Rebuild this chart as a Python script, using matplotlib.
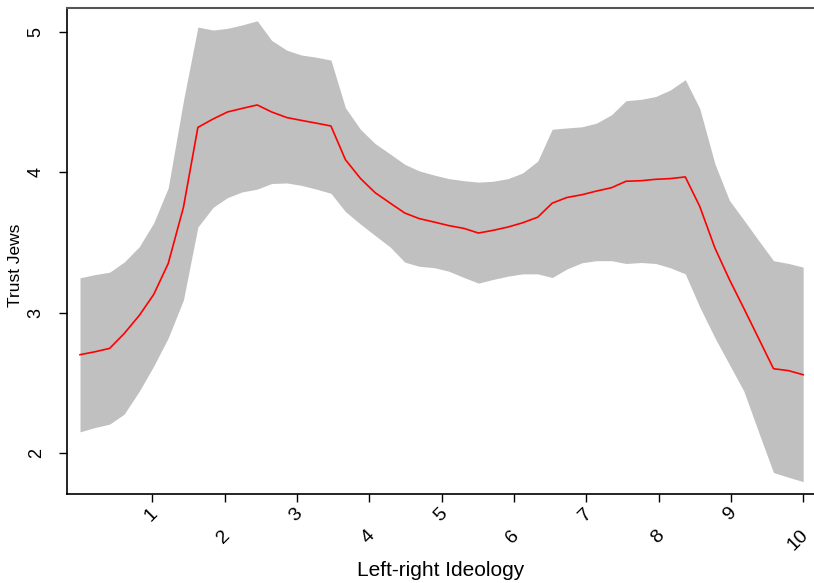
import matplotlib
matplotlib.use("Agg")
import matplotlib.pyplot as plt
from matplotlib.transforms import ScaledTranslation

# Left-right ideology grid (0..10)
ideology = [0.00, 0.20, 0.41, 0.61, 0.82, 1.02, 1.22, 1.43, 1.63, 1.84,
            2.04, 2.24, 2.45, 2.65, 2.86, 3.06, 3.27, 3.47, 3.67, 3.88,
            4.08, 4.29, 4.49, 4.69, 4.90, 5.10, 5.31, 5.51, 5.71, 5.92,
            6.12, 6.33, 6.53, 6.73, 6.94, 7.14, 7.35, 7.55, 7.76, 7.96,
            8.16, 8.37, 8.57, 8.78, 8.98, 9.18, 9.39, 9.59, 9.80, 10.00]

trust_mean = [2.70, 2.72, 2.745, 2.85, 2.98, 3.13, 3.35, 3.75, 4.32, 4.38,
              4.43, 4.455, 4.48, 4.43, 4.39, 4.37, 4.35, 4.33, 4.09, 3.955,
              3.855, 3.78, 3.71, 3.67, 3.645, 3.62, 3.60, 3.567, 3.586, 3.61,
              3.64, 3.68, 3.78, 3.82, 3.84, 3.866, 3.89, 3.936, 3.94, 3.95,
              3.955, 3.967, 3.757, 3.46, 3.236, 3.03, 2.81, 2.60, 2.586, 2.557]

trust_upper = [3.248, 3.27, 3.288, 3.36, 3.47, 3.64, 3.89, 4.51, 5.035, 5.014,
               5.026, 5.05, 5.08, 4.94, 4.87, 4.836, 4.82, 4.80, 4.46, 4.305,
               4.205, 4.13, 4.057, 4.01, 3.98, 3.955, 3.94, 3.93, 3.936, 3.955,
               3.995, 4.08, 4.307, 4.316, 4.324, 4.35, 4.41, 4.51, 4.52, 4.54,
               4.586, 4.66, 4.455, 4.06, 3.80, 3.66, 3.51, 3.37, 3.35, 3.324]

trust_lower = [2.15, 2.18, 2.205, 2.276, 2.44, 2.62, 2.82, 3.09, 3.61, 3.75,
               3.82, 3.86, 3.88, 3.92, 3.924, 3.907, 3.88, 3.85, 3.72, 3.63,
               3.55, 3.467, 3.36, 3.33, 3.32, 3.295, 3.25, 3.21, 3.236, 3.26,
               3.276, 3.276, 3.25, 3.31, 3.355, 3.37, 3.37, 3.35, 3.357, 3.35,
               3.32, 3.276, 3.04, 2.82, 2.63, 2.44, 2.14, 1.86, 1.826, 1.795]

xticks = [1, 2, 3, 4, 5, 6, 7, 8, 9, 10]
yticks = [2, 3, 4, 5]

plt.rcParams['font.family'] = ['Liberation Sans', 'DejaVu Sans']

fig = plt.figure(figsize=(8.14, 5.83), dpi=100)
ax = fig.add_axes([67/814, 1 - 494/583, 1 - 67/814, (494 - 8)/583])

ax.fill_between(ideology, trust_lower, trust_upper, color='#c0c0c0', linewidth=0)
ax.plot(ideology, trust_mean, color='#ff0000', linewidth=1.2)

ax.set_xlim(-0.18, 10.15)
ax.set_ylim(1.707, 5.171)

ax.set_xticks(xticks)
ax.set_xticklabels([str(t) for t in xticks], rotation=45, ha='right', va='center',
                   rotation_mode='anchor', fontsize=14)
ax.set_yticks(yticks)
ax.set_yticklabels([str(t) for t in yticks], rotation=90, va='center', fontsize=13)

ax.tick_params(axis='both', direction='out', length=6, width=1, colors='black')
ax.tick_params(axis='x', pad=6)
ax.tick_params(axis='y', pad=10)

for i, lab in enumerate(ax.get_xticklabels()):
    dy = -0.22 if i % 2 == 1 else 0.0
    lab.set_transform(lab.get_transform() + ScaledTranslation(0.03, dy, fig.dpi_scale_trans))

ax.set_xlabel('Left-right Ideology', fontsize=15, va='center')
ax.xaxis.set_label_coords(0.5, -(571 - 494) / 486)
ax.set_ylabel('Trust Jews', fontsize=12.5, va='center')
ax.yaxis.set_label_coords(-(67 - 16) / 747, (494 - 265) / 486)

for s in ['left', 'bottom']:
    ax.spines[s].set_color('black')
    ax.spines[s].set_linewidth(1.2)
ax.spines['top'].set_color('#555555')
ax.spines['top'].set_linewidth(1.5)
ax.spines['right'].set_visible(False)

fig.savefig('out.png', dpi=100)
